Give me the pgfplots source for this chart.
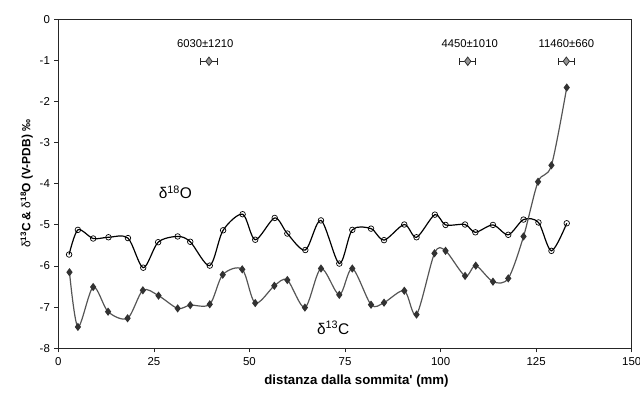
\documentclass[border=0pt]{standalone}
\usepackage{fontspec}
\setmainfont{Liberation Sans}
\usepackage{pgfplots}
\pgfplotsset{compat=1.18}
\definecolor{cgray}{RGB}{85,85,85}
\definecolor{cmark}{RGB}{50,50,50}
\definecolor{dgray}{RGB}{150,150,150}
\begin{document}
\begin{tikzpicture}
\begin{axis}[
  at={(0,0)}, anchor=south west,
  scale only axis, width=573.3bp, height=329bp,
  xmin=0, xmax=150, ymin=-8, ymax=0,
  xtick={0,25,...,150}, ytick={-8,-7,...,0},
  tick align=outside, xtick pos=bottom, ytick pos=left,
  major tick length=4bp,
  axis line style={line width=1.1pt, black!85},
  tick style={line width=0.9pt, black!85},
  /pgf/number format/assume math mode=true,
  ticklabel style={font=\fontsize{11.5}{13}\selectfont},
  xticklabel style={yshift=-2bp},
  yticklabel style={xshift=-1bp},
  xlabel={\textbf{distanza dalla sommita\textquotesingle{} (mm)}},
  xlabel style={font=\fontsize{13.3}{15}\selectfont, at={(axis description cs:0.52,0)}, anchor=north, yshift=-23bp},
  ylabel={\textbf{{\mdseries δ}\textsuperscript{13}C \& {\mdseries δ}\textsuperscript{18}O (V-PDB) ‰}},
  ylabel style={font=\fontsize{12}{14}\selectfont},
  clip=false,
]
\addplot[black, line width=1.2pt, smooth, tension=0.5, mark=o, mark size=2.8pt,
  mark options={fill=white, line width=0.7pt, solid}] table {
x y
2.8 -5.72
5.1 -5.12
9.1 -5.33
13.1 -5.30
18.2 -5.32
22.2 -6.04
26.1 -5.42
31.2 -5.28
34.5 -5.41
39.6 -5.99
43.1 -5.13
48.2 -4.74
51.5 -5.36
56.6 -4.83
59.9 -5.21
64.6 -5.61
68.7 -4.89
73.5 -5.94
76.9 -5.12
81.8 -5.09
85.2 -5.37
90.5 -4.99
93.7 -5.30
98.5 -4.75
101.3 -5.00
106.4 -4.99
109.1 -5.18
113.7 -5.00
117.7 -5.24
121.7 -4.87
125.6 -4.94
129.0 -5.63
133.0 -4.96
};
\addplot[cgray, line width=1.2pt, smooth, tension=0.5, mark=diamond*, mark size=3.2pt,
  mark options={fill=cmark, draw=cmark, solid}] table {
x y
2.9 -6.15
5.1 -7.48
9.1 -6.51
13.0 -7.11
18.1 -7.27
22.1 -6.59
26.2 -6.72
31.2 -7.03
34.5 -6.95
39.6 -6.93
43.0 -6.21
48.1 -6.08
51.5 -6.90
56.5 -6.48
59.9 -6.34
64.5 -7.01
68.7 -6.06
73.5 -6.70
76.9 -6.06
81.8 -6.94
85.2 -6.89
90.5 -6.60
93.7 -7.18
98.4 -5.69
101.3 -5.63
106.4 -6.24
109.2 -5.99
113.7 -6.38
117.7 -6.30
121.7 -5.28
125.5 -3.95
129.0 -3.55
133.0 -1.66
};
\addplot[only marks, mark=diamond*, mark size=4.2pt,
  mark options={fill=dgray, draw=black!80, line width=0.8pt},
  error bars/.cd, x dir=both, x explicit,
  error bar style={line width=1pt, black!85},
  error mark options={rotate=90, mark size=3.5pt, line width=1pt}] table[x=x, y=y, x error=e] {
x y e
39.4 -1.02 2.1
107.1 -1.02 2.1
132.9 -1.02 2.1
};
\node[font=\fontsize{11.3}{13}\selectfont] at (axis cs:38.4,-0.58) {6030±1210};
\node[font=\fontsize{11.3}{13}\selectfont] at (axis cs:107.6,-0.58) {4450±1010};
\node[font=\fontsize{11.3}{13}\selectfont] at (axis cs:132.9,-0.58) {11460±660};
\node[font=\fontsize{15.5}{17}\selectfont] at (axis cs:30.6,-4.2) {δ\textsuperscript{18}O};
\node[font=\fontsize{15.5}{17}\selectfont] at (axis cs:71.9,-7.5) {δ\textsuperscript{13}C};
\end{axis}
\pgfresetboundingbox
\path[use as bounding box] (-58.4bp,-45.7bp) rectangle (581.6bp,348.3bp);
\end{tikzpicture}
\end{document}
